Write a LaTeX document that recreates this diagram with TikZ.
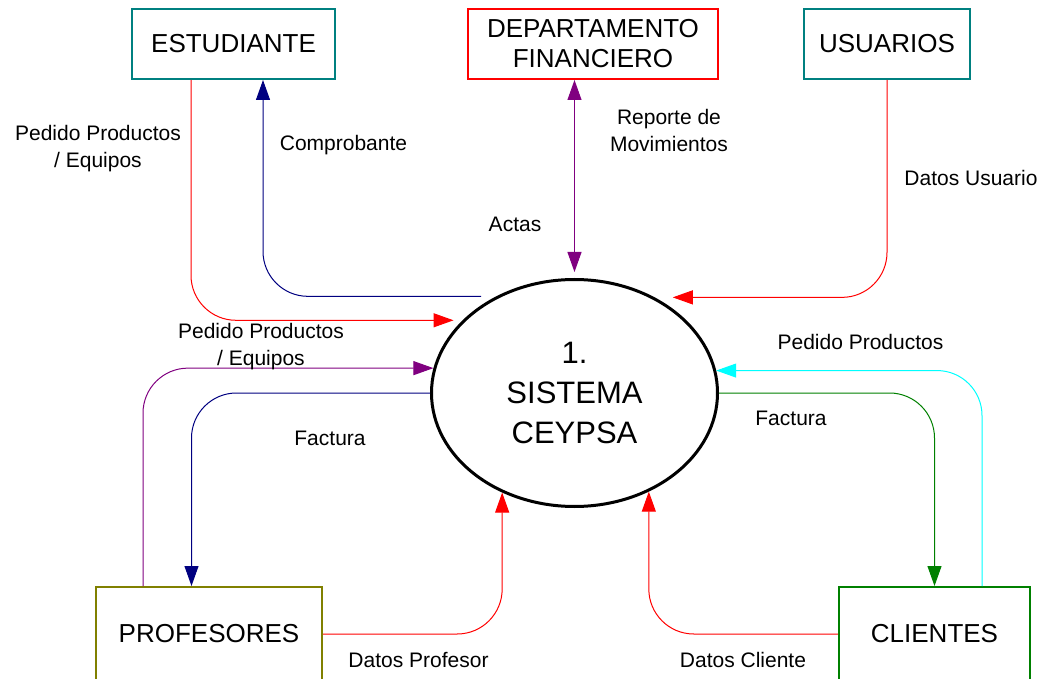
\documentclass[tikz,border=0pt]{standalone}
\usepackage{fontspec}
\setmainfont{Liberation Sans}
\usepackage{xcolor}
\usepackage{tikz}
\usetikzlibrary{arrows.meta,shapes,positioning}

\definecolor{entteal}{RGB}{0,128,128}
\definecolor{entolive}{RGB}{128,128,0}
\definecolor{entgreen}{RGB}{0,128,0}
\definecolor{flownavy}{RGB}{0,0,128}
\definecolor{flowpurple}{RGB}{128,0,128}
\definecolor{flowcyan}{RGB}{0,255,255}
\definecolor{flowred}{RGB}{255,0,0}

\begin{document}
\begin{tikzpicture}[
  x = 1pt, y = -1pt,
  > = {Triangle[length=20pt, width=14pt]},
  ent/.style  = {rectangle, draw, line width=2pt, inner sep=0pt,
                 align=center, font=\fontsize{26}{30}\selectfont},
  proc/.style = {ellipse, draw, line width=3pt, inner sep=0pt,
                 align=center, font=\fontsize{31}{40}\selectfont},
  flow/.style = {line width=1pt, rounded corners=45pt},
  lbl/.style  = {align=center, font=\fontsize{21}{27}\selectfont}
]
\useasboundingbox (0,0) rectangle (1050,679);

% entities
\node[ent, draw=entteal, minimum width=203pt, minimum height=70pt] (est) at (233.5,44) {ESTUDIANTE};
\node[ent, draw=flowred, minimum width=250pt, minimum height=70pt] (dep) at (593,44) {DEPARTAMENTO\\FINANCIERO};
\node[ent, draw=entteal, minimum width=166pt, minimum height=70pt] (usr) at (887,44) {USUARIOS};
\node[ent, draw=entolive, minimum width=226pt, minimum height=94pt] (prof) at (209,634) {PROFESORES};
\node[ent, draw=entgreen, minimum width=191pt, minimum height=94pt] (cli) at (934.5,634) {CLIENTES};

% process
\node[proc, minimum width=286pt, minimum height=227pt] (sys) at (574.5,393) {1.\\SISTEMA\\CEYPSA};

% flows
\draw[flow, flowred, ->, shorten >=9pt] ([xshift=-42.5pt]est.south) |- (sys.147.4);
\draw[flow, flownavy, <-, shorten >=15pt] ([xshift=29.5pt]est.south) |- (sys.129.6);
\draw[flow, flowpurple, <->, shorten >=6pt] (dep.south -| sys.north) -- (sys.north);
\draw[flow, flowred, ->, shorten >=18pt] (usr.south) |- (sys.50.4);
\draw[flow, flowpurple, ->] ([xshift=-66pt]prof.north) |- (sys.170.4);
\draw[flow, flownavy, ->] (sys.west) -| ([xshift=-17.5pt]prof.north);
\draw[flow, flowred, ->] (prof.east) -| (sys.-126.1);
\draw[flow, flowcyan, ->] ([xshift=47.5pt]cli.north) |- (sys.9.6);
\draw[flow, entgreen, ->] (sys.east) -| (cli.north);
\draw[flow, flowred, ->] (cli.west) -| (sys.-53.9);

% labels
\node[lbl] (lpedest) at (98,148.5) {Pedido Productos\\/ Equipos};
\node[lbl] (lcomp) at (343.5,145) {Comprobante};
\node[lbl] (lrep) at (669,130.5) {Reporte de\\Movimientos};
\node[lbl] (lactas) at (515,224) {Actas};
\node[lbl] (ldusr) at (971,178) {Datos Usuario};
\node[lbl] (lpedprof) at (261,346.5) {Pedido Productos\\/ Equipos};
\node[lbl] (lfactprof) at (330,438) {Factura};
\node[lbl] (lpedcli) at (860.5,342) {Pedido Productos};
\node[lbl] (lfactcli) at (791,418) {Factura};
\node[lbl] (ldprof) at (418.5,660) {Datos Profesor};
\node[lbl] (ldcli) at (743,660) {Datos Cliente};
\end{tikzpicture}
\end{document}
